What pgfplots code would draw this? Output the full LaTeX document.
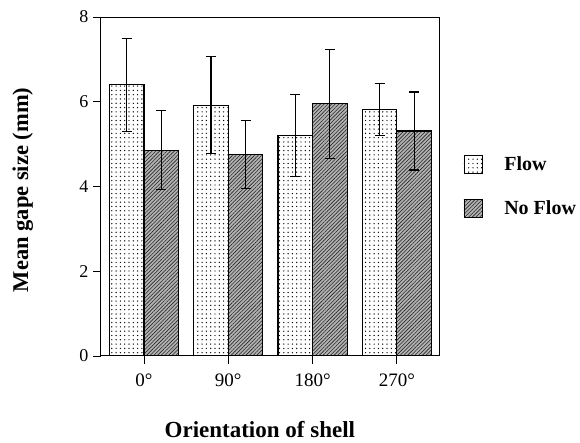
\documentclass[border=0pt]{standalone}
\usepackage{fontspec}
\setmainfont{Liberation Serif}
\usepackage{pgfplots}
\pgfplotsset{compat=1.18}
\usetikzlibrary{patterns.meta}
\pgfplotstableread{
x flow flowerr noflow noflowerr
0 6.40 1.10 4.86 0.93
1 5.92 1.15 4.75 0.80
2 5.21 0.97 5.95 1.28
3 5.82 0.61 5.31 0.92
}\gapedata
\begin{document}
\begin{tikzpicture}
\useasboundingbox (-101pt,-87pt) rectangle (479pt,356pt);
\begin{axis}[
  at={(0pt,0pt)}, anchor=south west,
  scale only axis, width=338pt, height=339pt,
  ymin=0, ymax=8, ytick={0,2,4,6,8},
  xmin=-0.51, xmax=3.5,
  xtick={0,1,2,3}, xticklabels={0°,90°,180°,270°},
  tick align=outside, tick pos=left,
  major tick length=8pt,
  every tick/.style={black, line width=0.9pt},
  axis line style={line width=1pt},
  /pgf/number format/assume math mode=true,
  yticklabel style={font=\fontsize{18}{20}\selectfont, xshift=-1pt},
  xticklabel style={font=\fontsize{19}{21}\selectfont, yshift=-6pt},
  xlabel={\textbf{Orientation of shell}},
  ylabel={\textbf{Mean gape size (mm)}},
  xlabel style={font=\fontsize{23}{26}\selectfont, at={(axis description cs:0.47,-0.218)}, anchor=center},
  ylabel style={font=\fontsize{22.5}{26}\selectfont, at={(axis description cs:-0.231,0.49)}, anchor=center},
  ybar, bar width=0.41,
  error bars/y dir=both, error bars/y explicit,
  error bars/error bar style={line width=1.2pt, black},
  error bars/error mark options={rotate=90, mark size=5pt, line width=1.2pt, black},
  legend style={draw=none, fill=none, at={(axis description cs:1.063,0.5)}, anchor=west,
    font=\fontsize{20}{22}\selectfont\bfseries, row sep=25pt},
  legend cell align=left,
  legend image code/.code={\draw[#1, line width=0.8pt] (0pt,-9pt) rectangle (18pt,9pt);},
]
\addplot[bar shift=-0.205, draw=black, line width=1.1pt, fill=white,
  postaction={pattern={Dots[distance=4.3pt, radius=0.7pt]}, pattern color=black}]
  table[x=x, y=flow, y error=flowerr] {\gapedata};
\addlegendentry{\hspace*{20pt}Flow}
\addplot[bar shift=0.205, draw=black, line width=1.1pt, fill=gray!60,
  postaction={pattern={Lines[angle=45, distance=2.6pt, line width=0.6pt]}, pattern color=black!85}]
  table[x=x, y=noflow, y error=noflowerr] {\gapedata};
\addlegendentry{\hspace*{20pt}No Flow}
\end{axis}
\end{tikzpicture}
\end{document}
